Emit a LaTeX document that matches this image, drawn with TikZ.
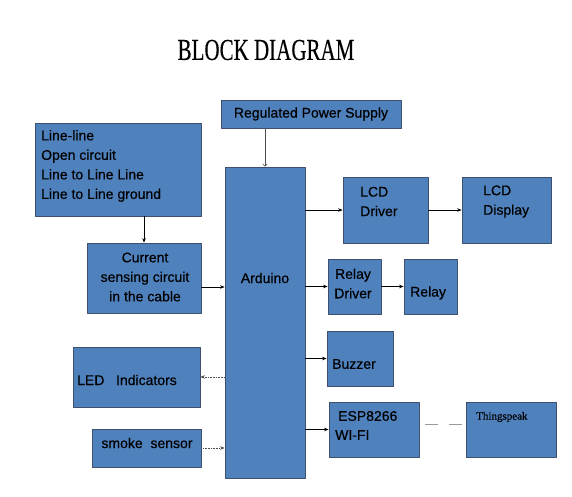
\documentclass[tikz,border=0pt]{standalone}
\usepackage{fontspec}
\setmainfont{Liberation Sans}[UprightFeatures={FakeBold=0.4}]
\newfontfamily\timesfont{Liberation Serif}[UprightFeatures={FakeBold=0.3}]
\usepackage{tikz}
\usetikzlibrary{arrows.meta}
\definecolor{blkfill}{RGB}{79,129,189}
\definecolor{blkline}{RGB}{62,80,110}
\tikzset{
  every picture/.style={line join=round, >=Stealth},
  blk/.style={draw=blkline, fill=blkfill, line width=0.8pt, inner sep=0pt},
  txt/.style={font=\fontsize{14}{19.5}\selectfont, inner sep=0pt, anchor=west, align=left},
  arr/.style={->, line width=0.6pt, >={Stealth[length=4.5pt,width=3.5pt]}},
  dotarr/.style={arr, densely dotted, draw=black!70},
  link/.style={line width=0.6pt, draw=black!40, dash pattern=on 13pt off 11pt},
}
\begin{document}
\begin{tikzpicture}[x=1pt,y=-1pt]
\useasboundingbox (0,0) rectangle (572,497);
% title
\node (title) at (266,50) {\scalebox{1}[1.45]{\timesfont\fontsize{21}{21}\selectfont BLOCK DIAGRAM}};
% blocks
\node[blk, minimum width=180pt, minimum height=28pt] (psu) at (311,114) {};
\node[blk, minimum width=166pt, minimum height=93pt] (fault) at (118,169.5) {};
\node[blk, minimum width=114pt, minimum height=70pt] (sense) at (144,278) {};
\node[blk, minimum width=80pt, minimum height=311pt] (ard) at (265,322.5) {};
\node[blk, minimum width=85pt, minimum height=66pt] (lcdd) at (385.5,210) {};
\node[blk, minimum width=89pt, minimum height=66pt] (lcdp) at (506.5,210) {};
\node[blk, minimum width=53pt, minimum height=55pt] (rlyd) at (354.5,286.5) {};
\node[blk, minimum width=53pt, minimum height=55pt] (rly) at (430.5,286.5) {};
\node[blk, minimum width=66pt, minimum height=55pt] (buz) at (360,358.5) {};
\node[blk, minimum width=90pt, minimum height=55pt] (esp) at (374,429.5) {};
\node[blk, minimum width=90pt, minimum height=55pt] (ts) at (511,429.5) {};
\node[blk, minimum width=127pt, minimum height=60pt] (led) at (136.5,377) {};
\node[blk, minimum width=109pt, minimum height=38pt] (smk) at (146.5,448) {};
% texts
\node[txt, anchor=center] (psut) at (psu) {Regulated Power Supply};
\node[txt] (faultt) at (41,166) {Line-line\\Open circuit\\Line to Line Line\\Line to Line ground};
\node[txt, anchor=center, align=center] (senset) at (145,277) {Current\\sensing circuit\\in the cable};
\node[txt, anchor=center] (ardt) at (265,278) {Arduino};
\node[txt] (lcddt) at (360,201.5) {LCD\\Driver};
\node[txt] (lcdpt) at (483,201.5) {LCD\\Display};
\node[txt, anchor=center, align=center] (rlydt) at (353,283.5) {Relay\\Driver};
\node[txt] (rlyt) at (410,293) {Relay};
\node[txt] (buzt) at (332,364) {Buzzer};
\node[txt] (espt1) at (338,416) {ESP8266};
\node[txt] (espt2) at (335,435) {WI-FI};
\node[inner sep=0pt, anchor=west, font=\timesfont\fontsize{11}{11}\selectfont] (tst) at (476,417) {Thingspeak};
\node[txt] (ledt) at (77,380) {LED\ \ \ Indicators};
\node[txt, anchor=center] (smkt) at (147,443) {smoke\ \ sensor};
% connectors
\draw[->, line width=0.5pt, >={To[length=3pt,width=5pt]}, draw=black!70] (ard.north|-psu.south) -- (ard.north);
\draw[arr] (sense.north|-fault.south) -- (sense.north);
\draw[arr] ([yshift=-9pt]sense.east) -- ([yshift=-9pt]sense.east-|ard.west);
\draw[arr] (lcdd.west-|ard.east) -- (lcdd.west);
\draw[arr] (lcdd.east) -- (lcdp.west);
\draw[arr] (rlyd.west-|ard.east) -- (rlyd.west);
\draw[arr] (rlyd.east) -- (rly.west);
\draw[arr] (buz.west-|ard.east) -- (buz.west);
\draw[arr] (esp.west-|ard.east) -- (esp.west);
\draw[dotarr] (led.east-|ard.west) -- (led.east);
\draw[dotarr] (smk.east) -- (smk.east-|ard.west);
\draw[link] ([xshift=6pt,yshift=5pt]esp.east) -- ([xshift=-3pt,yshift=5pt]ts.west);
\end{tikzpicture}
\end{document}
